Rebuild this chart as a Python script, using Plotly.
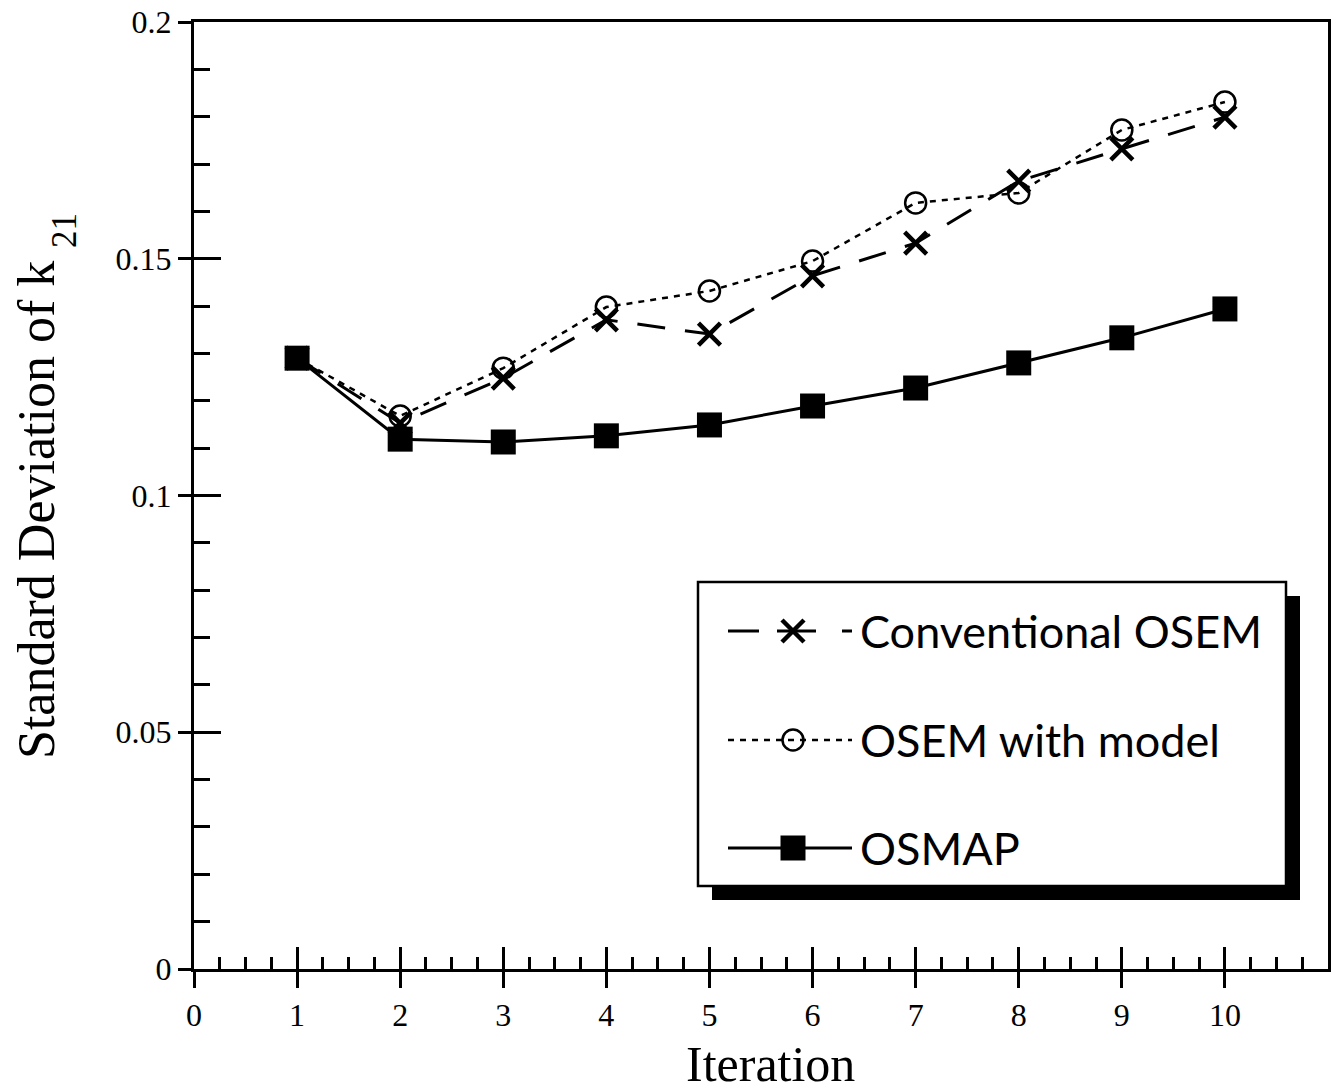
import plotly.graph_objects as go

# ---------------- data ----------------
iterations = [1, 2, 3, 4, 5, 6, 7, 8, 9, 10]
conventional_osem = [0.1290, 0.1153, 0.1248, 0.1371, 0.1341, 0.1464, 0.1533, 0.1664, 0.1732, 0.1799]
osem_with_model = [0.1290, 0.1168, 0.1269, 0.1398, 0.1432, 0.1495, 0.1618, 0.1639, 0.1772, 0.1831]
osmap = [0.1290, 0.1119, 0.1113, 0.1126, 0.1149, 0.1189, 0.1227, 0.1280, 0.1333, 0.1394]

series_names = ["Conventional OSEM", "OSEM with model", "OSMAP"]
x_tick_vals = [0, 1, 2, 3, 4, 5, 6, 7, 8, 9, 10]
y_tick_vals = [0, 0.05, 0.1, 0.15, 0.2]
y_tick_text = ["0", "0.05", "0.1", "0.15", "0.2"]
x_title = "Iteration"
y_title_main = "Standard Deviation of k"
y_title_sub = "21"

# ---------------- styles ----------------
SERIF = "Liberation Serif"
SANS = "Lato"
OFF = 8  # page body margin offset
W, H = 1339 - OFF, 1091 - OFF
L, R, T, B = 194 - OFF, 11, 22 - OFF, 122
PW, PH = W - L - R, H - T - B


def px_x(p):  # page pixel -> paper
    return (p - OFF - L) / PW


def px_y(p):
    return (H - B - (p - OFF)) / PH


styles = [
    dict(line=dict(color="black", width=3, dash="28px,20px"),
         marker=dict(symbol="x-thin", size=22, color="black", line=dict(color="black", width=4.5))),
    dict(line=dict(color="black", width=2.5, dash="6px,6px"),
         marker=dict(symbol="circle-open", size=21, color="black", line=dict(color="black", width=2.5))),
    dict(line=dict(color="black", width=3),
         marker=dict(symbol="square", size=25, color="black", line=dict(color="black", width=0))),
]
legend_dash = ["31px,18px,39px,26px,10px", "6px,6px", "solid"]

fig = go.Figure()
for name, ys, st in zip(series_names, [conventional_osem, osem_with_model, osmap], styles):
    fig.add_trace(go.Scatter(x=iterations, y=ys, mode="lines+markers", name=name,
                             line=st["line"], marker=st["marker"], showlegend=False))

# placeholder trace so the overlay tick axes render
fig.add_trace(go.Scatter(x=[None], y=[None], xaxis="x2", yaxis="y2", showlegend=False,
                         hoverinfo="skip"))

# ---------------- custom legend ----------------
box_l, box_r, box_t, box_b = 698, 1286, 582, 886
shadow = 14
fig.add_shape(type="rect", xref="paper", yref="paper", layer="below",
              x0=px_x(box_l + shadow), x1=px_x(box_r + shadow),
              y0=px_y(box_b + shadow), y1=px_y(box_t + shadow),
              fillcolor="black", line=dict(color="black", width=0))
fig.add_shape(type="rect", xref="paper", yref="paper", layer="below",
              x0=px_x(box_l), x1=px_x(box_r), y0=px_y(box_b), y1=px_y(box_t),
              fillcolor="white", line=dict(color="black", width=2.5))

row_y = [631, 740, 848]
samp_l, samp_r, samp_m, text_x = 728, 852, 793, 858
for name, st, dsh, ry in zip(series_names, styles, legend_dash, row_y):
    ln = dict(st["line"])
    ln["dash"] = dsh
    fig.add_trace(go.Scatter(x=[px_x(samp_l), px_x(samp_r)], y=[px_y(ry), px_y(ry)],
                             mode="lines", line=ln, xaxis="x3", yaxis="y3",
                             showlegend=False, hoverinfo="skip"))
    fig.add_trace(go.Scatter(x=[px_x(samp_m)], y=[px_y(ry)], mode="markers",
                             marker=st["marker"], xaxis="x3", yaxis="y3",
                             showlegend=False, hoverinfo="skip"))
    fig.add_annotation(x=px_x(text_x), y=px_y(ry), xref="paper", yref="paper",
                       text=name, showarrow=False, xanchor="left", yanchor="middle",
                       font=dict(family=SANS, size=45, color="black"))

# axis titles as annotations for precise placement
fig.add_annotation(x=px_x(770), y=px_y(1064), xref="paper", yref="paper", text=x_title,
                   showarrow=False, xanchor="center", yanchor="middle",
                   font=dict(family=SERIF, size=50, color="black"))
fig.add_annotation(x=px_x(36), y=px_y(510), xref="paper", yref="paper", text=y_title_main,
                   showarrow=False, xanchor="center", yanchor="middle", textangle=-90,
                   font=dict(family=SERIF, size=52, color="black"))
fig.add_annotation(x=px_x(64), y=px_y(231), xref="paper", yref="paper", text=y_title_sub,
                   showarrow=False, xanchor="center", yanchor="middle", textangle=-90,
                   font=dict(family=SERIF, size=35, color="black"))

tickfont = dict(family=SERIF, size=32, color="black")
fig.update_layout(
    width=W, height=H,
    margin=dict(l=L, r=R, t=T, b=B, pad=0, autoexpand=False),
    paper_bgcolor="white", plot_bgcolor="white",
    showlegend=False,
    xaxis=dict(range=[0, 11], tickmode="array", tickvals=x_tick_vals, automargin=False,
               ticklabeloverflow="allow",
               ticks="outside", ticklen=16, tickwidth=3, tickcolor="black",
               showline=True, linewidth=3, linecolor="black", mirror=True,
               showgrid=False, zeroline=False, tickfont=tickfont),
    yaxis=dict(range=[0, 0.2], tickmode="array", tickvals=y_tick_vals, ticktext=y_tick_text,
               automargin=False, ticklabeloverflow="allow",
               ticks="outside", ticklen=13, tickwidth=3, tickcolor="black",
               showline=True, linewidth=3, linecolor="black", mirror=True,
               showgrid=False, zeroline=False, tickfont=tickfont),
    xaxis2=dict(range=[0, 11], overlaying="x", anchor="y", side="bottom", automargin=False,
                tickmode="array", tickvals=x_tick_vals, ticks="inside", ticklen=22, tickwidth=3,
                tickcolor="black", showticklabels=False, showline=False, showgrid=False,
                zeroline=False,
                minor=dict(ticks="inside", ticklen=12, tickwidth=2.5, tickcolor="black",
                           dtick=0.25, tick0=0, showgrid=False)),
    yaxis2=dict(range=[0, 0.2], overlaying="y", anchor="x", side="left", automargin=False,
                tickmode="array", tickvals=y_tick_vals, ticks="inside", ticklen=27, tickwidth=3,
                tickcolor="black", showticklabels=False, showline=False, showgrid=False,
                zeroline=False,
                minor=dict(ticks="inside", ticklen=16, tickwidth=2.5, tickcolor="black",
                           dtick=0.01, tick0=0, showgrid=False)),
    xaxis3=dict(range=[0, 1], overlaying="x", anchor="y3", visible=False, fixedrange=True),
    yaxis3=dict(range=[0, 1], overlaying="y", anchor="x3", visible=False, fixedrange=True),
)

fig.write_html("out.html")
